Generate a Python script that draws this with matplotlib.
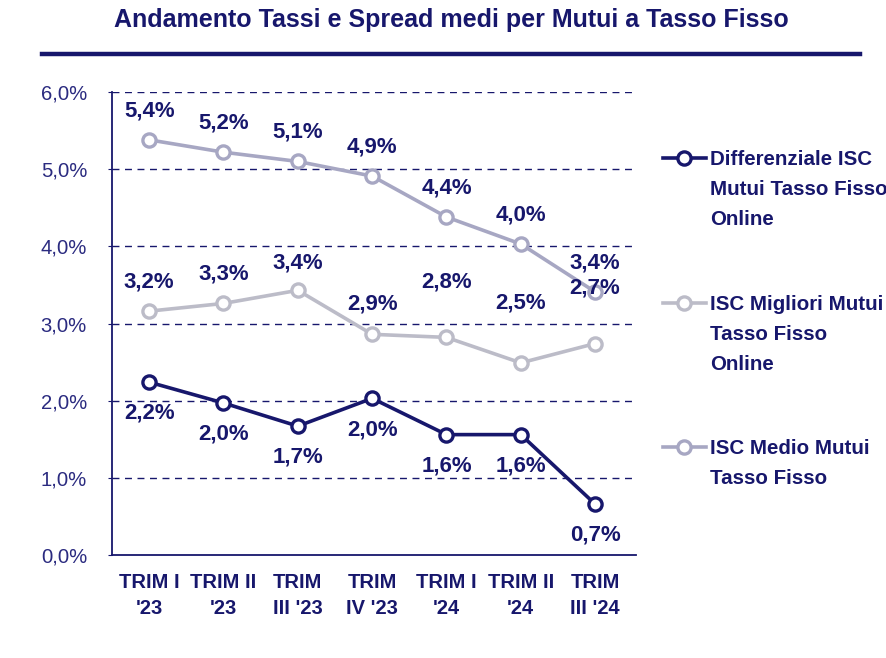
import numpy as np
import matplotlib
matplotlib.use('Agg')
import matplotlib.pyplot as plt
from matplotlib.lines import Line2D

plt.rcParams['font.family'] = ['Liberation Sans', 'DejaVu Sans']

# data
quarters = ["TRIM I\n'23", "TRIM II\n'23", "TRIM\nIII '23", "TRIM\nIV '23",
            "TRIM I\n'24", "TRIM II\n'24", "TRIM\nIII '24"]
isc_medio = [5.38, 5.22, 5.10, 4.91, 4.38, 4.03, 3.41]
isc_migliori = [3.16, 3.26, 3.43, 2.86, 2.82, 2.49, 2.74]
differenziale = [2.24, 1.97, 1.67, 2.03, 1.56, 1.56, 0.66]

navy = '#17176c'
c_medio = '#a7a7c3'
c_migl = '#bcbcc8'

fig = plt.figure(figsize=(8.86, 6.58), dpi=100)
ax = fig.add_axes([112/886, 1-555/658, (636-112)/886, (555-92)/658])

x = np.arange(len(quarters))

def fmt(v):
    return ('%.1f' % v).replace('.', ',') + '%'

series = [
    (isc_medio, c_medio, [21]*7),
    (isc_migliori, c_migl, [21, 21, 20, 22, 40, 43, 40]),
    (differenziale, navy, [-22.5]*7),
]

for vals, col, offs in series:
    ax.plot(x, vals, color=col, lw=2.6, marker='o', ms=9.5, mfc='white',
            mec=col, mew=2.4, zorder=3)
    for xi, v, o in zip(x, vals, offs):
        ax.annotate(fmt(v), (xi, v), xytext=(0, o), textcoords='offset points',
                    ha='center', va='center', fontsize=16, fontweight='bold',
                    color=navy, zorder=4)

ax.set_ylim(0, 6)
ax.set_xlim(-0.5, 6.55)
ax.set_yticks(np.arange(0, 7, 1))
ax.set_yticklabels([fmt(v) for v in np.arange(0, 7, 1)], fontsize=14.6, color='#2b2b80')
ax.set_xticks(x)
ax.set_xticklabels(quarters, fontsize=14.5, fontweight='bold', color=navy,
                   linespacing=1.45)
ax.tick_params(axis='x', length=0, pad=13)
ax.tick_params(axis='y', length=3, color=navy, pad=15, direction='out')

for y in range(1, 7):
    ax.axhline(y, color=navy, lw=1, ls=(0, (5, 4)), zorder=1)

for s in ['top', 'right']:
    ax.spines[s].set_visible(False)
for s in ['left', 'bottom']:
    ax.spines[s].set_color(navy)
    ax.spines[s].set_linewidth(1.3)

# title and rule
fig.text(451/886, 1-20/658, 'Andamento Tassi e Spread medi per Mutui a Tasso Fisso',
         ha='center', va='center', fontsize=18, fontweight='bold', color=navy)
fig.add_artist(Line2D([42/886, 860/886], [1-54/658, 1-54/658], color=navy, lw=3.2))

# legend
legend_items = [
    ('Differenziale ISC\nMutui Tasso Fisso\nOnline', navy, 158),
    ('ISC Migliori Mutui\nTasso Fisso\nOnline', c_migl, 303),
    ('ISC Medio Mutui\nTasso Fisso', c_medio, 447),
]
for label, col, ypx in legend_items:
    yf = 1 - ypx/658
    fig.add_artist(Line2D([663/886, 706/886], [yf, yf], color=col, lw=2.6))
    fig.add_artist(Line2D([684/886], [yf], color=col, marker='o', ms=9.5,
                          mfc='white', mec=col, mew=2.4))
    fig.text(710/886, yf + 8/658, label, ha='left', va='top', fontsize=14.8,
             fontweight='bold', color=navy, linespacing=1.75)

fig.savefig('out.png', dpi=100)
